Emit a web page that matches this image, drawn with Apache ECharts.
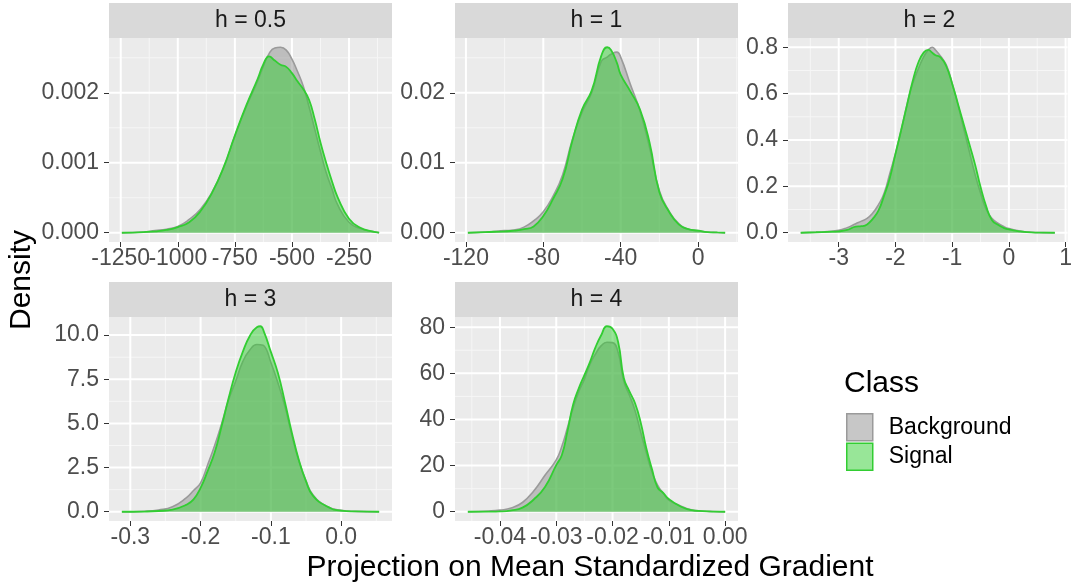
<!DOCTYPE html>
<html>
<head>
<meta charset="utf-8">
<script src="https://cdn.jsdelivr.net/npm/echarts@6/dist/echarts.min.js"></script>
<style>
  html, body { margin: 0; padding: 0; background: #ffffff; }
  #chart { width: 1075px; height: 586px; }
</style>
</head>
<body>
<div id="chart"></div>
<script>
// Facet labels and class names
const panelTitles = ['h = 0.5', 'h = 1', 'h = 2', 'h = 3', 'h = 4'];
const classNames = ['Background', 'Signal'];

// h = 0.5
const xH05 = [-1245, -1150, -1100, -1050, -1000, -950, -900, -850, -800, -750, -700, -650, -625, -600, -575, -550, -525, -500, -475, -450, -425, -400, -375, -350, -325, -300, -250, -200, -150, -118];
const bgH05 = [0, 0.00001, 0.00003, 0.00005, 0.00009, 0.00019, 0.00034, 0.00058, 0.00092, 0.00138, 0.0018, 0.00217, 0.00238, 0.00256, 0.00264, 0.00265, 0.00261, 0.00248, 0.0023, 0.00209, 0.0018, 0.00148, 0.00116, 0.00086, 0.00063, 0.0004, 0.00015, 0.00006, 0.00002, 0];
const sgH05 = [0, 0.00001, 0.00002, 0.00004, 0.00008, 0.00015, 0.00031, 0.00057, 0.00093, 0.00139, 0.00182, 0.0022, 0.00241, 0.00252, 0.00246, 0.0024, 0.00237, 0.00228, 0.00216, 0.00205, 0.0019, 0.00162, 0.00129, 0.001, 0.00074, 0.00051, 0.0002, 0.00007, 0.00002, 0];
const xTicksH05 = ['-1250', '-1000', '-750', '-500', '-250'];
const yTicksH05 = ['0.000', '0.001', '0.002'];

// h = 1
const xH1 = [-119, -110, -100, -95, -90, -85, -80, -75, -70, -65, -60, -55, -50, -47, -45, -42, -40, -35, -30, -25, -20, -15, -10, -5, 0, 5, 10, 14];
const bgH1 = [0, 0.0001, 0.0003, 0.0004, 0.0008, 0.0017, 0.003, 0.0052, 0.0083, 0.0133, 0.0172, 0.02, 0.0245, 0.0251, 0.0255, 0.0258, 0.0251, 0.0212, 0.0174, 0.0121, 0.006, 0.0031, 0.0013, 0.0005, 0.0003, 0.0001, 0.00004, 0];
const sgH1 = [0, 0.0001, 0.0002, 0.0003, 0.0005, 0.0009, 0.0024, 0.0048, 0.0077, 0.0131, 0.0176, 0.0203, 0.0253, 0.0265, 0.0261, 0.0243, 0.0226, 0.0202, 0.0176, 0.0128, 0.0058, 0.003, 0.0012, 0.0005, 0.0003, 0.0001, 0.00004, 0];
const xTicksH1 = ['-120', '-80', '-40', '0'];
const yTicksH1 = ['0.00', '0.01', '0.02'];

// h = 2
const xH2 = [-3.67, -3.4, -3.2, -3.0, -2.85, -2.7, -2.6, -2.5, -2.4, -2.3, -2.2, -2.1, -2.0, -1.9, -1.8, -1.7, -1.6, -1.5, -1.42, -1.35, -1.3, -1.2, -1.1, -1.0, -0.9, -0.8, -0.7, -0.6, -0.5, -0.4, -0.3, -0.2, -0.1, 0.0, 0.2, 0.4, 0.6, 0.81];
const bgH2 = [0, 0.002, 0.005, 0.01, 0.022, 0.039, 0.05, 0.062, 0.085, 0.12, 0.17, 0.255, 0.342, 0.44, 0.548, 0.64, 0.705, 0.76, 0.788, 0.80, 0.79, 0.76, 0.722, 0.644, 0.553, 0.453, 0.353, 0.255, 0.171, 0.1, 0.062, 0.042, 0.028, 0.018, 0.007, 0.002, 0.0005, 0];
const sgH2 = [0, 0.002, 0.004, 0.006, 0.012, 0.026, 0.028, 0.036, 0.06, 0.095, 0.16, 0.235, 0.339, 0.442, 0.547, 0.65, 0.732, 0.778, 0.789, 0.776, 0.767, 0.755, 0.716, 0.643, 0.558, 0.471, 0.385, 0.298, 0.198, 0.114, 0.055, 0.035, 0.022, 0.014, 0.006, 0.0015, 0.0005, 0];
const xTicksH2 = ['-3', '-2', '-1', '0', '1'];
const yTicksH2 = ['0.0', '0.2', '0.4', '0.6', '0.8'];

// h = 3
const xH3 = [-0.312, -0.28, -0.26, -0.24, -0.22, -0.21, -0.20, -0.19, -0.18, -0.17, -0.16, -0.15, -0.14, -0.13, -0.12, -0.115, -0.11, -0.10, -0.09, -0.08, -0.07, -0.06, -0.05, -0.04, -0.02, 0.0, 0.02, 0.054];
const bgH3 = [0, 0.03, 0.1, 0.28, 0.8, 1.2, 1.64, 2.65, 3.75, 5.0, 6.35, 7.4, 8.5, 9.15, 9.47, 9.45, 9.4, 8.45, 7.3, 5.95, 4.3, 2.85, 1.75, 0.95, 0.3, 0.08, 0.02, 0];
const sgH3 = [0, 0.01, 0.04, 0.12, 0.4, 0.7, 1.35, 2.3, 3.35, 4.85, 6.45, 7.9, 9.05, 9.95, 10.45, 10.5, 10.2, 9.05, 7.85, 6.2, 4.45, 2.9, 1.72, 0.9, 0.3, 0.06, 0.02, 0];
const xTicksH3 = ['-0.3', '-0.2', '-0.1', '0.0'];
const yTicksH3 = ['0.0', '2.5', '5.0', '7.5', '10.0'];

// h = 4
const xH4 = [-0.0457, -0.042, -0.040, -0.038, -0.036, -0.034, -0.032, -0.030, -0.029, -0.028, -0.027, -0.026, -0.025, -0.024, -0.023, -0.022, -0.021, -0.020, -0.019, -0.018, -0.017, -0.016, -0.015, -0.014, -0.013, -0.012, -0.011, -0.010, -0.008, -0.006, -0.004, -0.002, 0.0];
const bgH4 = [0, 0.3, 0.7, 1.6, 4.0, 9.0, 15.8, 22.5, 28.4, 36.5, 45, 52, 57.5, 64, 68.5, 72, 73.5, 73.3, 69, 56.5, 50.5, 43.8, 34.5, 25.5, 17.2, 11.5, 8.0, 5.0, 2.6, 0.8, 0.3, 0.1, 0];
const sgH4 = [0, 0.05, 0.15, 0.6, 1.8, 5.3, 10.7, 20.2, 24.6, 35, 46.5, 53.5, 59.2, 65, 71.5, 76.6, 80.4, 79.3, 73.5, 58, 52.2, 47, 38.7, 27.5, 18.5, 10.5, 8.2, 5.5, 2.4, 0.7, 0.25, 0.05, 0];
const xTicksH4 = ['-0.04', '-0.03', '-0.02', '-0.01', '0.00'];
const yTicksH4 = ['0', '20', '40', '60', '80'];

const panels = [
  { x: xH05, bg: bgH05, sg: sgH05, xTicks: xTicksH05, yTicks: yTicksH05 },
  { x: xH1,  bg: bgH1,  sg: sgH1,  xTicks: xTicksH1,  yTicks: yTicksH1 },
  { x: xH2,  bg: bgH2,  sg: sgH2,  xTicks: xTicksH2,  yTicks: yTicksH2 },
  { x: xH3,  bg: bgH3,  sg: sgH3,  xTicks: xTicksH3,  yTicks: yTicksH3 },
  { x: xH4,  bg: bgH4,  sg: sgH4,  xTicks: xTicksH4,  yTicks: yTicksH4 }
];

// Facet layout (pixels)
const colLeft = [109, 455, 788];
const rowTop = [38, 317];
const panelW = 283, panelH = 204, stripH = 35;
const cells = [[0, 0], [1, 0], [2, 0], [0, 1], [1, 1]];

const FONT = 'Liberation Sans';
const fillBg = 'rgba(143,143,143,0.5)';
const lineBg = '#9A9A9A';
const fillSg = 'rgba(50,205,50,0.5)';
const lineSg = '#32CD32';

function labelFor(ticks) {
  return function (v) {
    for (const t of ticks) {
      if (Math.abs(Number(t) - v) < 1e-9 * Math.max(1, Math.abs(v)) + 1e-12) return t;
    }
    return '';
  };
}

// major ticks plus half-step minor lines inside [lo, hi]
function gridValues(ticks, lo, hi) {
  const major = ticks.map(Number);
  const step = major[1] - major[0];
  const minor = [];
  for (let k = -1; k < major.length; k++) {
    const m = major[0] + (k + 0.5) * step;
    if (m > lo && m < hi) minor.push(m);
  }
  return { major, minor };
}

function renderGridLine(params, api) {
  const cs = params.coordSys;
  const vertical = api.value(2) === 0;
  const major = api.value(3) === 1;
  const p = api.coord([api.value(0), api.value(1)]);
  const shape = vertical
    ? { x1: p[0], y1: cs.y, x2: p[0], y2: cs.y + cs.height }
    : { x1: cs.x, y1: p[1], x2: cs.x + cs.width, y2: p[1] };
  return {
    type: 'line',
    shape: shape,
    style: { stroke: major ? '#FFFFFF' : '#F6F6F6', lineWidth: major ? 2 : 1 },
    silent: true
  };
}

const labelStyle = { color: '#4D4D4D', fontSize: 23, fontFamily: FONT };
const hiddenLine = { show: false, onZero: false };
const grids = [], xAxes = [], xAxesAlt = [], yAxes = [], series = [], graphics = [];

panels.forEach(function (pn, i) {
  const left = colLeft[cells[i][0]];
  const top = rowTop[cells[i][1]];

  const xmin = Math.min.apply(null, pn.x), xmax = Math.max.apply(null, pn.x);
  const xr = xmax - xmin;
  const xLo = xmin - 0.05 * xr, xHi = xmax + 0.05 * xr;
  const ymax = Math.max(Math.max.apply(null, pn.bg), Math.max.apply(null, pn.sg));
  const yLo = -0.05 * ymax, yHi = 1.05 * ymax;

  grids.push({
    left: left, top: top, width: panelW, height: panelH,
    show: true, backgroundColor: '#EBEBEB', borderWidth: 0, containLabel: false
  });

  const xVals = pn.xTicks.map(Number);
  const yVals = pn.yTicks.map(Number);
  // alternate x labels between two bottom axes so neighbouring labels are never dropped
  const xEven = xVals.filter((v, k) => k % 2 === 0);
  const xOdd = xVals.filter((v, k) => k % 2 === 1);

  xAxes.push({
    type: 'value', gridIndex: i, min: xLo, max: xHi, position: 'bottom',
    axisLine: hiddenLine,
    splitLine: { show: false },
    axisTick: { show: true, customValues: xVals, length: 5, lineStyle: { color: '#333333', width: 1 } },
    axisLabel: Object.assign({
      customValues: xEven, formatter: labelFor(pn.xTicks), margin: 5,
      hideOverlap: false, showMinLabel: true, showMaxLabel: true
    }, labelStyle)
  });
  xAxesAlt.push({
    type: 'value', gridIndex: i, min: xLo, max: xHi, position: 'bottom', offset: 0,
    axisLine: hiddenLine,
    splitLine: { show: false },
    axisTick: { show: false },
    axisLabel: Object.assign({
      customValues: xOdd, formatter: labelFor(pn.xTicks), margin: 5,
      hideOverlap: false, showMinLabel: true, showMaxLabel: true
    }, labelStyle)
  });
  yAxes.push({
    type: 'value', gridIndex: i, min: yLo, max: yHi, position: 'left',
    axisLine: hiddenLine,
    splitLine: { show: false },
    axisTick: { show: true, customValues: yVals, length: 5, lineStyle: { color: '#333333', width: 1 } },
    axisLabel: Object.assign({
      customValues: yVals, formatter: labelFor(pn.yTicks), margin: 10,
      hideOverlap: false, showMinLabel: true, showMaxLabel: true
    }, labelStyle)
  });

  // panel grid lines
  const gx = gridValues(pn.xTicks, xLo, xHi);
  const gy = gridValues(pn.yTicks, yLo, yHi);
  const lines = [];
  gx.minor.forEach(v => lines.push([v, 0, 0, 0]));
  gy.minor.forEach(v => lines.push([xLo, v, 1, 0]));
  gx.major.forEach(v => lines.push([v, 0, 0, 1]));
  gy.major.forEach(v => lines.push([xLo, v, 1, 1]));
  series.push({
    type: 'custom', xAxisIndex: i, yAxisIndex: i, data: lines,
    encode: { x: 0, y: 1 }, renderItem: renderGridLine, silent: true, z: 1, clip: true
  });

  // density curves
  series.push({
    type: 'line', name: classNames[0], xAxisIndex: i, yAxisIndex: i,
    data: pn.x.map((v, k) => [v, pn.bg[k]]),
    smooth: 0.5, symbol: 'none', showSymbol: false, silent: true, z: 2,
    lineStyle: { color: lineBg, width: 1.6 },
    itemStyle: { color: fillBg },
    areaStyle: { color: fillBg, opacity: 1 }
  });
  series.push({
    type: 'line', name: classNames[1], xAxisIndex: i, yAxisIndex: i,
    data: pn.x.map((v, k) => [v, pn.sg[k]]),
    smooth: 0.5, symbol: 'none', showSymbol: false, silent: true, z: 3,
    lineStyle: { color: lineSg, width: 1.8 },
    itemStyle: { color: fillSg },
    areaStyle: { color: fillSg, opacity: 1 }
  });

  // facet strip
  graphics.push({
    type: 'rect', silent: true,
    shape: { x: left, y: top - stripH, width: panelW, height: stripH },
    style: { fill: '#D9D9D9' }
  });
  graphics.push({
    type: 'text', silent: true, x: left + panelW / 2, y: top - stripH / 2 + 0.5,
    style: {
      text: panelTitles[i], fill: '#1A1A1A', font: '23px "' + FONT + '"',
      align: 'center', verticalAlign: 'middle', textAlign: 'center', textVerticalAlign: 'middle'
    }
  });
});

// axis titles and legend title
graphics.push({
  type: 'text', silent: true, x: 590, y: 568,
  style: {
    text: 'Projection on Mean Standardized Gradient', fill: '#000000', font: '30px "' + FONT + '"',
    align: 'center', verticalAlign: 'middle', textAlign: 'center', textVerticalAlign: 'middle'
  }
});
graphics.push({
  type: 'text', silent: true, x: 22, y: 280, rotation: Math.PI / 2,
  style: {
    text: 'Density', fill: '#000000', font: '30px "' + FONT + '"',
    align: 'center', verticalAlign: 'middle', textAlign: 'center', textVerticalAlign: 'middle'
  }
});
graphics.push({
  type: 'text', silent: true, x: 844, y: 384,
  style: {
    text: 'Class', fill: '#000000', font: '30px "' + FONT + '"',
    align: 'left', verticalAlign: 'middle', textAlign: 'left', textVerticalAlign: 'middle'
  }
});

const chart = echarts.init(document.getElementById('chart'), null, { renderer: 'canvas' });
chart.setOption({
  animation: false,
  backgroundColor: '#FFFFFF',
  textStyle: { fontFamily: FONT },
  tooltip: { show: false },
  grid: grids,
  xAxis: xAxes.concat(xAxesAlt),
  yAxis: yAxes,
  series: series,
  graphic: graphics,
  legend: {
    show: true, orient: 'vertical', left: 846, top: 413, padding: 0,
    itemWidth: 26, itemHeight: 27, itemGap: 1, icon: 'rect', selectedMode: false,
    textStyle: { fontSize: 23, color: '#000000', fontFamily: FONT, padding: [0, 0, 0, 11] },
    data: [
      { name: classNames[0], itemStyle: { color: fillBg, borderColor: lineBg, borderWidth: 1.5 } },
      { name: classNames[1], itemStyle: { color: fillSg, borderColor: lineSg, borderWidth: 1.5 } }
    ]
  }
});
</script>
</body>
</html>
